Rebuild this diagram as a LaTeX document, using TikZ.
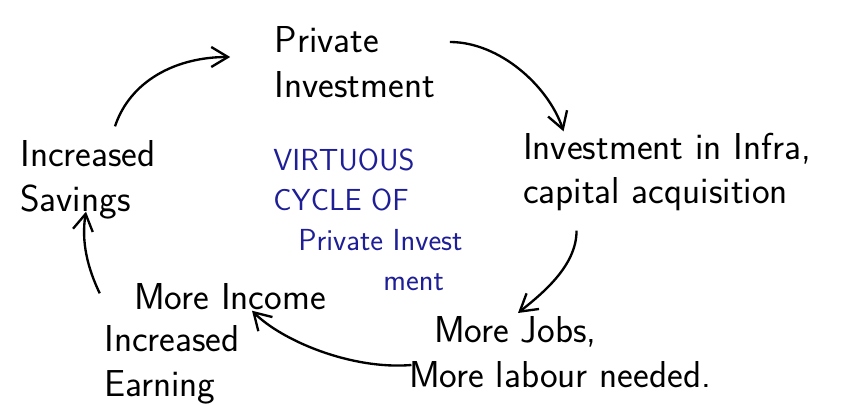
\documentclass[tikz,border=0pt]{standalone}
\usepackage{xcolor}
\usetikzlibrary{arrows.meta}
\definecolor{cycleBlue}{RGB}{30,30,150}
\tikzset{
    font=\sffamily,
    >={Straight Barb[length=5mm,width=6mm]},
    % Labels
    lbl/.style={align=left, inner sep=2pt, font=\sffamily\fontsize{32}{38}\selectfont},
    note/.style={align=left, inner sep=2pt, text=cycleBlue, font=\sffamily\fontsize{26}{34}\selectfont},
    % Flow
    flow/.style={->, line width=2pt, black}
}

\begin{document}
\begin{tikzpicture}[x=0.03cm, y=-0.03cm]
\useasboundingbox (0,0) rectangle (843,405);

\node[lbl] (pinv) at (355,62) {Private\\Investment};
\node[lbl] (infra) at (667,172) {Investment in Infra,\\capital acquisition};
\node[lbl] (jobs) at (560,352) {\hspace*{0.75cm}More Jobs,\\More labour needed.};
\node[lbl] (income) at (230,297) {More Income};
\node[lbl] (earn) at (172,365) {Increased\\Earning};
\node[lbl] (sav) at (88,180) {Increased\\Savings};
\node[note] (cycle) at (368,220) {VIRTUOUS\\CYCLE OF\\\hspace*{0.75cm}Private Invest\\\hspace*{3.3cm}ment};

\draw[flow] ([shift={(27,-12)}]sav.north) .. controls +(15,-45) and +(-55,0) .. ([shift={(-42,-5)}]pinv.west);
\draw[flow] ([shift={(12,-20)}]pinv.east) .. controls +(50,0) and +(-15,-45) .. ([shift={(43,1)}]infra.north west);
\draw[flow] ([shift={(56,17)}]infra.south west) .. controls +(0,35) and +(25,-20) .. ([shift={(-42,-1)}]jobs.north);
\draw[flow] ([shift={(5,13)}]jobs.west) .. controls +(-60,5) and +(30,30) .. ([shift={(22,-2)}]income.south);
\draw[flow] ([shift={(-2,-30)}]earn.north west) .. controls +(-12,-25) and +(-5,30) .. ([shift={(-2,-10)}]sav.south);

\end{tikzpicture}
\end{document}
